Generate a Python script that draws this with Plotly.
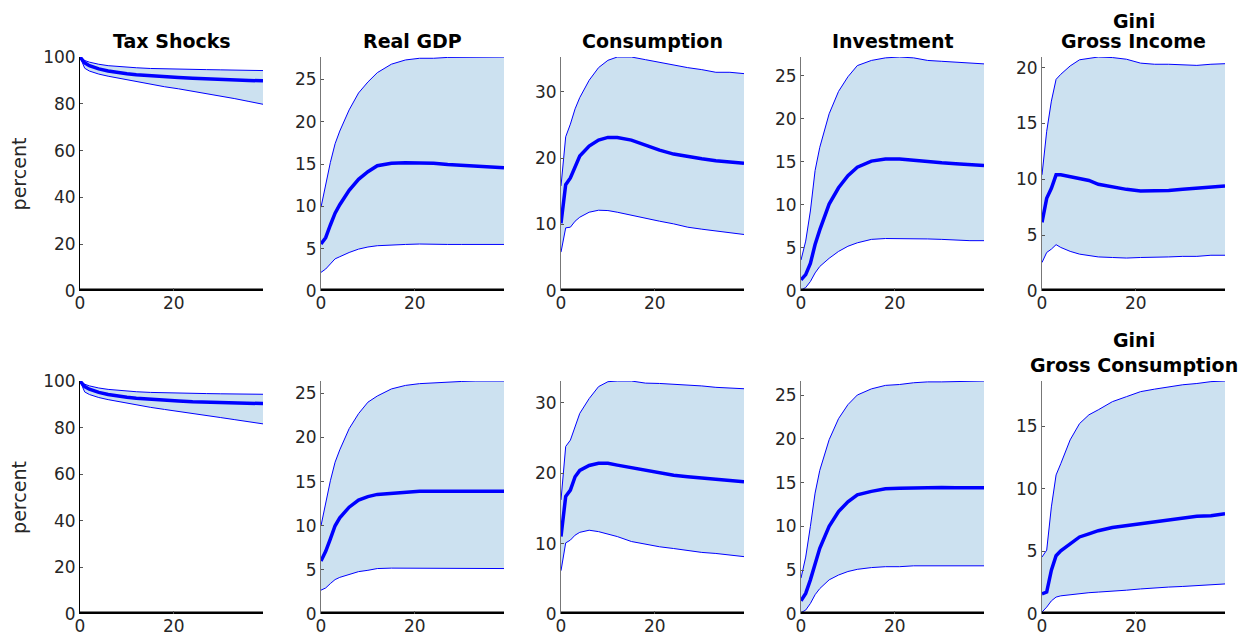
import plotly.graph_objects as go

horizon = [0, 1, 2, 3, 4, 6, 8, 10, 12, 15, 18, 21, 24, 27, 30, 33, 36, 39]

titles_top = ["Tax Shocks", "Real GDP", "Consumption", "Investment", "Gini<br>Gross Income"]
titles_bottom = ["", "", "", "", "Gini<br>Gross Consumption"]

# ---- top row ----
tax_med_1 = [100, 97.5, 96.3, 95.5, 94.9, 94.0, 93.3, 92.8, 92.4, 91.9, 91.5, 91.2, 90.9, 90.6, 90.4, 90.2, 90.0, 89.8]
tax_up_1 = [100, 98.5, 97.8, 97.3, 96.9, 96.3, 95.9, 95.6, 95.4, 95.1, 94.9, 94.8, 94.7, 94.6, 94.5, 94.4, 94.3, 94.2]
tax_lo_1 = [100, 95.2, 94.0, 93.3, 92.7, 91.8, 91.0, 90.2, 89.4, 88.3, 87.3, 86.4, 85.4, 84.4, 83.3, 82.2, 81.0, 79.8]

gdp_med_1 = [5.56, 6.3, 7.8, 9.2, 10.2, 11.9, 13.2, 14.1, 14.8, 15.1, 15.16, 15.16, 15.1, 14.96, 14.84, 14.8, 14.7, 14.56]
gdp_up_1 = [9.9, 12.6, 15.2, 17.4, 18.9, 21.4, 23.4, 24.7, 25.8, 26.8, 27.3, 27.5, 27.5, 27.6, 27.6, 27.65, 27.65, 27.65]
gdp_lo_1 = [2.2, 2.6, 3.2, 3.8, 4.05, 4.55, 4.95, 5.2, 5.35, 5.45, 5.5, 5.55, 5.5, 5.5, 5.5, 5.5, 5.5, 5.5]

cons_med_1 = [10.2, 16.0, 17.0, 18.8, 20.3, 21.8, 22.7, 23.1, 23.1, 22.7, 21.9, 21.2, 20.6, 20.2, 19.9, 19.6, 19.4, 19.2]
cons_up_1 = [15.8, 23.2, 25.1, 27.4, 29.1, 31.7, 33.6, 34.7, 35.2, 35.2, 34.8, 34.4, 33.9, 33.6, 33.3, 32.9, 32.9, 32.7]
cons_lo_1 = [5.85, 9.5, 9.6, 10.5, 11.1, 11.85, 12.15, 12.1, 11.85, 11.4, 10.85, 10.5, 10.1, 9.6, 9.3, 9.0, 8.7, 8.5]

inv_med_1 = [1.3, 1.9, 3.2, 5.4, 7.1, 10.1, 12.0, 13.4, 14.4, 15.1, 15.35, 15.35, 15.2, 15.0, 14.9, 14.8, 14.7, 14.6]
inv_up_1 = [3.6, 5.8, 9.3, 14.0, 16.7, 20.6, 23.2, 24.9, 26.2, 26.8, 27.1, 27.2, 27.1, 26.8, 26.7, 26.6, 26.5, 26.4]
inv_lo_1 = [0.1, 0.4, 1.1, 2.1, 2.85, 3.8, 4.6, 5.2, 5.6, 6.0, 6.1, 6.1, 6.1, 6.05, 6.0, 5.9, 5.85, 5.85]

gini_med_1 = [6.15, 8.3, 9.2, 10.4, 10.4, 10.25, 10.1, 9.9, 9.55, 9.3, 9.1, 8.95, 8.95, 9.0, 9.1, 9.2, 9.3, 9.4]
gini_up_1 = [10.4, 14.3, 17.0, 18.95, 19.4, 20.15, 20.7, 20.8, 20.95, 20.9, 20.75, 20.4, 20.3, 20.3, 20.25, 20.2, 20.3, 20.35]
gini_lo_1 = [2.55, 3.45, 3.75, 4.15, 3.9, 3.55, 3.3, 3.15, 3.05, 3.0, 2.95, 3.0, 3.0, 3.05, 3.1, 3.1, 3.2, 3.2]

# ---- bottom row ----
tax_med_2 = [100, 97.6, 96.5, 95.7, 95.1, 94.2, 93.5, 93.0, 92.6, 92.1, 91.7, 91.4, 91.1, 90.9, 90.7, 90.5, 90.4, 90.3]
tax_up_2 = [100, 98.6, 97.9, 97.4, 97.0, 96.4, 96.0, 95.7, 95.4, 95.1, 94.9, 94.8, 94.7, 94.6, 94.5, 94.4, 94.4, 94.3]
tax_lo_2 = [100, 95.3, 94.2, 93.5, 92.9, 92.0, 91.2, 90.4, 89.7, 88.7, 87.8, 87.0, 86.1, 85.2, 84.3, 83.4, 82.5, 81.6]

gdp_med_2 = [6.0, 7.1, 8.5, 10.0, 10.9, 12.1, 12.9, 13.3, 13.55, 13.7, 13.8, 13.9, 13.9, 13.9, 13.9, 13.9, 13.9, 13.9]
gdp_up_2 = [10.0, 12.6, 15.1, 17.2, 18.6, 21.0, 22.7, 24.0, 24.7, 25.5, 25.9, 26.1, 26.2, 26.3, 26.35, 26.4, 26.4, 26.4]
gdp_lo_2 = [2.7, 2.95, 3.45, 3.9, 4.15, 4.5, 4.8, 4.95, 5.15, 5.2, 5.2, 5.2, 5.2, 5.2, 5.2, 5.2, 5.15, 5.15]

cons_med_2 = [11.0, 16.7, 17.6, 19.5, 20.4, 21.1, 21.4, 21.4, 21.15, 20.8, 20.35, 20.0, 19.7, 19.5, 19.3, 19.1, 19.0, 18.8]
cons_up_2 = [16.2, 23.8, 24.7, 26.6, 28.5, 30.6, 32.3, 33.0, 33.1, 33.1, 32.8, 32.75, 32.65, 32.55, 32.4, 32.2, 32.1, 32.0]
cons_lo_2 = [6.15, 10.1, 10.5, 11.2, 11.6, 11.9, 11.7, 11.35, 11.0, 10.3, 9.9, 9.55, 9.3, 9.0, 8.75, 8.6, 8.4, 8.15]

inv_med_2 = [1.5, 2.35, 3.9, 5.8, 7.5, 10.0, 11.7, 12.8, 13.6, 14.0, 14.3, 14.35, 14.4, 14.45, 14.45, 14.4, 14.4, 14.4]
inv_up_2 = [4.1, 6.5, 10.0, 13.8, 16.4, 19.9, 22.3, 23.9, 25.0, 25.7, 26.1, 26.2, 26.4, 26.5, 26.5, 26.55, 26.6, 26.6]
inv_lo_2 = [0.15, 0.45, 1.2, 2.2, 2.9, 3.9, 4.45, 4.85, 5.1, 5.3, 5.4, 5.4, 5.5, 5.5, 5.5, 5.5, 5.5, 5.5]

gini_med_2 = [1.6, 1.75, 3.5, 4.65, 5.05, 5.6, 6.15, 6.4, 6.65, 6.9, 7.05, 7.2, 7.4, 7.55, 7.7, 7.8, 7.85, 8.0]
gini_up_2 = [4.55, 5.1, 8.55, 11.1, 12.0, 13.9, 15.2, 15.9, 16.3, 16.95, 17.35, 17.75, 17.95, 18.15, 18.3, 18.4, 18.55, 18.6]
gini_lo_2 = [0.15, 0.55, 1.05, 1.35, 1.45, 1.55, 1.6, 1.7, 1.75, 1.8, 1.9, 2.0, 2.1, 2.15, 2.2, 2.25, 2.35, 2.4]

panels = [
    (tax_med_1, tax_up_1, tax_lo_1), (gdp_med_1, gdp_up_1, gdp_lo_1), (cons_med_1, cons_up_1, cons_lo_1),
    (inv_med_1, inv_up_1, inv_lo_1), (gini_med_1, gini_up_1, gini_lo_1),
    (tax_med_2, tax_up_2, tax_lo_2), (gdp_med_2, gdp_up_2, gdp_lo_2), (cons_med_2, cons_up_2, cons_lo_2),
    (inv_med_2, inv_up_2, inv_lo_2), (gini_med_2, gini_up_2, gini_lo_2),
]
titles = titles_top + titles_bottom

# page has an 8px body margin, so the figure is a bit smaller and positions shift by 8
OFF = 8
W, H = 1256 - 2 * OFF, 643 - 2 * OFF
lefts = [80 - OFF, 321 - OFF, 561 - OFF, 801 - OFF, 1042 - OFF]
pw = 183
rows_px = [(57 - OFF, 291 - OFF), (381 - OFF, 614 - OFF)]

BAND = "rgb(204,225,240)"
BLUE = "rgb(0,0,255)"

fig = go.Figure()
layout = dict()
for k, (med, up, lo) in enumerate(panels):
    r, c = divmod(k, 5)
    n = k + 1
    xa = "x" if n == 1 else "x%d" % n
    ya = "y" if n == 1 else "y%d" % n
    # shaded band
    fig.add_trace(go.Scatter(x=horizon, y=lo, xaxis=xa, yaxis=ya, mode="lines",
                             line=dict(color=BLUE, width=1), showlegend=False, hoverinfo="skip"))
    fig.add_trace(go.Scatter(x=horizon, y=up, xaxis=xa, yaxis=ya, mode="lines", fill="tonexty",
                             fillcolor=BAND, line=dict(color=BLUE, width=1), showlegend=False))
    # zero line
    fig.add_trace(go.Scatter(x=[0, 39], y=[0, 0], xaxis=xa, yaxis=ya, mode="lines",
                             line=dict(color="black", width=5), showlegend=False))
    # median
    fig.add_trace(go.Scatter(x=horizon, y=med, xaxis=xa, yaxis=ya, mode="lines",
                             line=dict(color=BLUE, width=3.5), showlegend=False))

    top, bot = rows_px[r]
    ymax = max(max(up), 100 if c == 0 else 0)
    axcol = "black" if c == 0 else "#777777"
    layout["xaxis" if n == 1 else "xaxis%d" % n] = dict(
        domain=[lefts[c] / W, (lefts[c] + pw) / W], anchor=ya, range=[0, 39],
        tickvals=[0, 20], ticks="inside", ticklen=3, tickcolor="#555", automargin=False,
        showgrid=False, zeroline=False, showline=False,
        tickfont=dict(family="DejaVu Sans", size=17, color="#262626"))
    layout["yaxis" if n == 1 else "yaxis%d" % n] = dict(
        domain=[1 - bot / H, 1 - top / H], anchor=xa, range=[0, ymax], automargin=False,
        ticks="inside", ticklen=3, tickcolor="#555", dtick=20 if c == 0 else (10 if c == 2 else 5),
        showgrid=False, zeroline=False, showline=True, linecolor=axcol, linewidth=1,
        tickfont=dict(family="DejaVu Sans", size=17, color="#262626"),
        title=dict(text="percent", standoff=14, font=dict(family="DejaVu Sans", size=19, color="#262626")) if c == 0 else None)

annotations = []
for k, t in enumerate(titles):
    if not t:
        continue
    r, c = divmod(k, 5)
    top, bot = rows_px[r]
    lines = t.split("<br>")
    # last line sits just above the panel, earlier lines stacked above it
    for j, line in enumerate(reversed(lines)):
        y = 1 - (top - 3 - 25 * j) / H
        anchor = "bottom"
        if y > 1 - 25 / H:
            y, anchor = 1.0, "top"
        annotations.append(dict(text="<b>%s</b>" % line, x=(lefts[c] + pw / 2) / W, y=y,
                                xref="paper", yref="paper", xanchor="center", yanchor=anchor,
                                showarrow=False, font=dict(family="DejaVu Sans", size=19, color="black")))

fig.update_layout(**layout)
fig.update_layout(width=W, height=H, margin=dict(l=0, r=0, t=0, b=0),
                  plot_bgcolor="white", paper_bgcolor="white", annotations=annotations)

fig.write_html("out.html")
